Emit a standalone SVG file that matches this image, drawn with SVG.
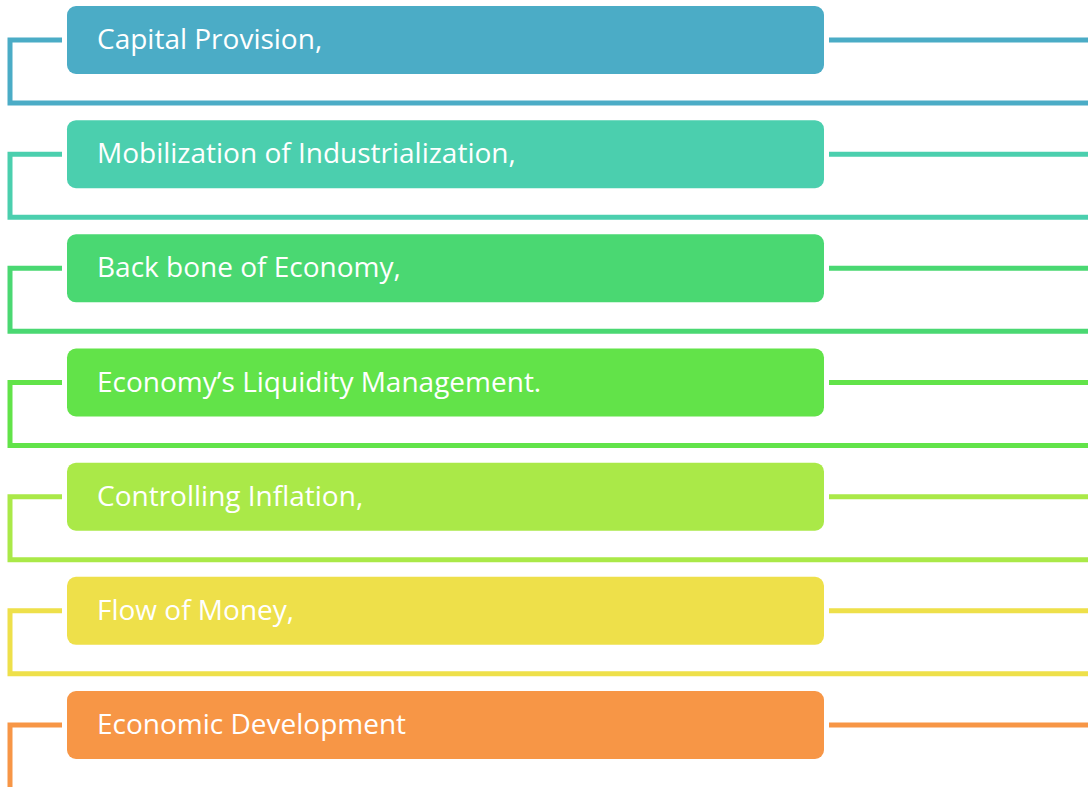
<svg xmlns="http://www.w3.org/2000/svg" width="1088" height="787" viewBox="0 0 1088 787">
<style>
.box{stroke:none}
.lbl{font-family:"Open Sans","Liberation Sans",sans-serif;font-size:28px;fill:#ffffff}
.ln{fill:none;stroke-width:5;stroke-linejoin:miter}
</style>
<rect width="1088" height="787" fill="#ffffff"/>
<g id="connectors">
<path class="ln" stroke="#4BACC6" d="M62 40H10V103H1088M829 40H1088"/>
<path class="ln" stroke="#4BCFAE" d="M62 154.2H10V217.2H1088M829 154.2H1088"/>
<path class="ln" stroke="#4AD872" d="M62 268.3H10V331.3H1088M829 268.3H1088"/>
<path class="ln" stroke="#62E349" d="M62 382.5H10V445.5H1088M829 382.5H1088"/>
<path class="ln" stroke="#AAE948" d="M62 496.7H10V559.7H1088M829 496.7H1088"/>
<path class="ln" stroke="#EEE04A" d="M62 610.8H10V673.8H1088M829 610.8H1088"/>
<path class="ln" stroke="#F79646" d="M62 725H10V790M829 725H1088"/>
</g>
<g id="n1"><rect class="box" x="67" y="6" width="757" height="68" rx="9" fill="#4BACC6"/><text class="lbl" x="97" y="49">Capital Provision,</text></g>
<g id="n2"><rect class="box" x="67" y="120.2" width="757" height="68" rx="9" fill="#4BCFAE"/><text class="lbl" x="97" y="163.2">Mobilization of Industrialization,</text></g>
<g id="n3"><rect class="box" x="67" y="234.3" width="757" height="68" rx="9" fill="#4AD872"/><text class="lbl" x="97" y="277.3">Back bone of Economy,</text></g>
<g id="n4"><rect class="box" x="67" y="348.5" width="757" height="68" rx="9" fill="#62E349"/><text class="lbl" x="97" y="391.5">Economy’s Liquidity Management.</text></g>
<g id="n5"><rect class="box" x="67" y="462.7" width="757" height="68" rx="9" fill="#AAE948"/><text class="lbl" x="97" y="505.7">Controlling Inflation,</text></g>
<g id="n6"><rect class="box" x="67" y="576.8" width="757" height="68" rx="9" fill="#EEE04A"/><text class="lbl" x="97" y="619.8">Flow of Money,</text></g>
<g id="n7"><rect class="box" x="67" y="691" width="757" height="68" rx="9" fill="#F79646"/><text class="lbl" x="97" y="734">Economic Development</text></g>
</svg>
